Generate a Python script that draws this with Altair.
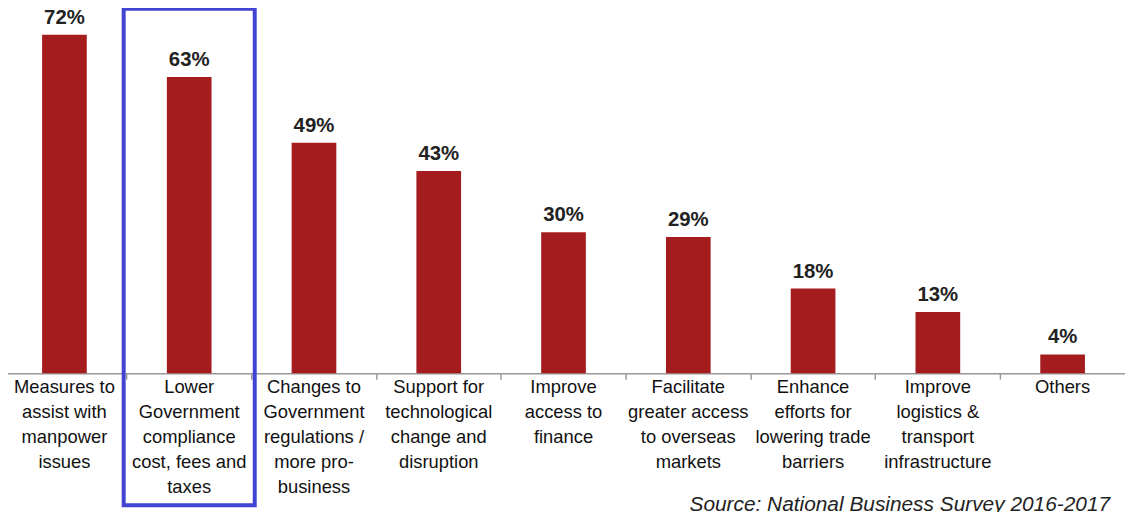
import altair as alt
import pandas as pd

categories = [
    "Measures to|assist with|manpower|issues",
    "Lower|Government|compliance|cost, fees and|taxes",
    "Changes to|Government|regulations /|more pro-|business",
    "Support for|technological|change and|disruption",
    "Improve|access to|finance",
    "Facilitate|greater access|to overseas|markets",
    "Enhance|efforts for|lowering trade|barriers",
    "Improve|logistics &|transport|infrastructure",
    "Others",
]
values = [72, 63, 49, 43, 30, 29, 18, 13, 4]
labels = ["72%", "63%", "49%", "43%", "30%", "29%", "18%", "13%", "4%"]
highlight = [categories[1]]
source_text = ["Source: National Business Survey 2016-2017"]

df = pd.DataFrame({"cat": categories, "val": values, "lab": labels})
hl = pd.DataFrame({"cat": highlight})
src = pd.DataFrame({"t": source_text})

xscale = alt.Scale(domain=categories, paddingInner=0, paddingOuter=0)
yscale = alt.Scale(domain=[0, 79])

x = alt.X("cat:N", scale=xscale, sort=None, title=None,
          axis=alt.Axis(labelAngle=0, labelExpr="split(datum.value, '|')",
                        labelFont="Liberation Sans", labelFontSize=18.5,
                        labelColor="#111111", labelLineHeight=25.3,
                        labelBaseline="top", labelPadding=-2, labelLimit=200,
                        bandPosition=0, tickSize=6, tickColor="#999999",
                        domainColor="#999999", domainWidth=1.5, tickWidth=1.5,
                        labelOverlap=False))

bars = alt.Chart(df).mark_bar(color="#A51C1E", width=45).encode(
    x=x,
    y=alt.Y("val:Q", scale=yscale, axis=None),
)

text = alt.Chart(df).mark_text(
    font="Liberation Sans", fontSize=20.5, fontWeight="bold", color="#222222",
    baseline="bottom", dy=-7
).encode(
    x=alt.X("cat:N", scale=xscale, sort=None),
    y=alt.Y("val:Q", scale=yscale),
    text="lab:N",
)

box = alt.Chart(hl).mark_bar(
    width=132, fill=None, fillOpacity=0, stroke="#4143D3", strokeWidth=4, clip=False
).encode(
    x=alt.X("cat:N", scale=xscale, sort=None),
    y=alt.value(7),
    y2=alt.value(507),
)

source = alt.Chart(src).mark_text(
    font="Liberation Sans", fontSize=21, fontStyle="italic", color="#222222",
    align="right", baseline="alphabetic"
).encode(
    x=alt.value(1116),
    y=alt.value(513),
    text="t:N",
)

chart = alt.layer(bars, text, box, source).properties(
    width=1131, height=374,
    autosize=alt.AutoSizeParams(type="none"),
    padding={"left": -6, "top": -8, "right": 0, "bottom": 140},
).configure_view(stroke=None).configure(background="white")

chart.save("out.html", embed_options={"renderer": "svg", "actions": False})
